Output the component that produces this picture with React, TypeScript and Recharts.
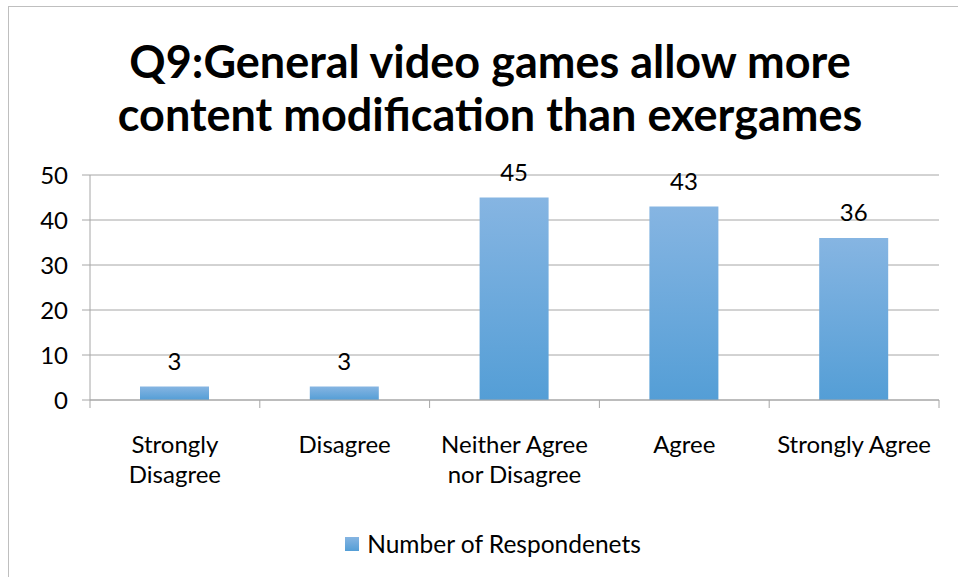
import { BarChart, Bar, XAxis, YAxis, CartesianGrid, LabelList } from 'recharts'

const categories = ['Strongly\nDisagree', 'Disagree', 'Neither Agree\nnor Disagree', 'Agree', 'Strongly Agree']
const respondents = [3, 3, 45, 43, 36]
const yTicks = [0, 10, 20, 30, 40, 50]

const title = ['Q9:General video games allow more', 'content modification than exergames']
const seriesName = 'Number of Respondenets'

const FONT = 'Lato, "Open Sans", sans-serif'
const GRID = '#a6a6a6'

const data = categories.map((cat, i) => ({ cat, value: respondents[i] }))

// Excel-style ticks sit between categories, so draw them from the tick itself
function CatTick({ x, y, payload, width, visibleTicksCount }: any) {
  const lines = String(payload.value).split('\n')
  const half = width / visibleTicksCount / 2
  const last = payload.index === visibleTicksCount - 1
  return (
    <g>
      <line x1={x - half} x2={x - half} y1={y} y2={y + 8} stroke={GRID} />
      {last && <line x1={x + half} x2={x + half} y1={y} y2={y + 8} stroke={GRID} />}
      <text x={x} y={y + 53} textAnchor="middle" fontSize={24} fill="#000" fontFamily={FONT}>
        {lines.map((l, i) => (
          <tspan key={i} x={x} dy={i === 0 ? 0 : 30}>{l}</tspan>
        ))}
      </text>
    </g>
  )
}

export default function App() {
  return (
    <div style={{ position: 'absolute', left: 0, top: 0, width: 958, height: 577, overflow: 'hidden', background: '#fff', fontFamily: FONT }}>
      <div style={{ position: 'absolute', left: 8, top: 6, width: 990, height: 620, border: '1px solid #bfbfbf' }} />
      <div style={{ position: 'absolute', left: 0, top: 35, width: 980, textAlign: 'center', fontSize: 45, fontWeight: 700, lineHeight: '53px', color: '#000' }}>
        {title.map((t, i) => <div key={i}>{t}</div>)}
      </div>
      <div style={{ position: 'absolute', left: 0, top: 0 }}>
        <BarChart width={958} height={577} data={data} margin={{ top: 175, right: 19, bottom: 77, left: 0 }}>
          <defs>
            <linearGradient id="barFill" x1="0" y1="0" x2="0" y2="1">
              <stop offset="0%" stopColor="#86b5e2" />
              <stop offset="100%" stopColor="#549ed6" />
            </linearGradient>
          </defs>
          <CartesianGrid vertical={false} stroke={GRID} />
          <XAxis dataKey="cat" tick={<CatTick />} tickLine={false} tickSize={0} tickMargin={0} stroke={GRID} height={100} interval={0} />
          <YAxis domain={[0, 50]} ticks={yTicks} width={90} tickSize={8} tickMargin={14} stroke={GRID}
            tick={{ fill: '#000', fontSize: 24, fontFamily: FONT }} />
          <Bar dataKey="value" name={seriesName} barSize={69} fill="url(#barFill)" isAnimationActive={false}>
            <LabelList dataKey="value" position="top" offset={17} fill="#000" fontSize={24} fontFamily={FONT} />
          </Bar>
        </BarChart>
      </div>
      <div style={{ position: 'absolute', left: 0, top: 529, width: 986, display: 'flex', justifyContent: 'center', alignItems: 'center', fontSize: 24.5, color: '#000' }}>
        <span style={{ width: 14, height: 14, background: 'linear-gradient(#86b5e2, #549ed6)', marginRight: 8 }} />
        <span>{seriesName}</span>
      </div>
    </div>
  )
}
